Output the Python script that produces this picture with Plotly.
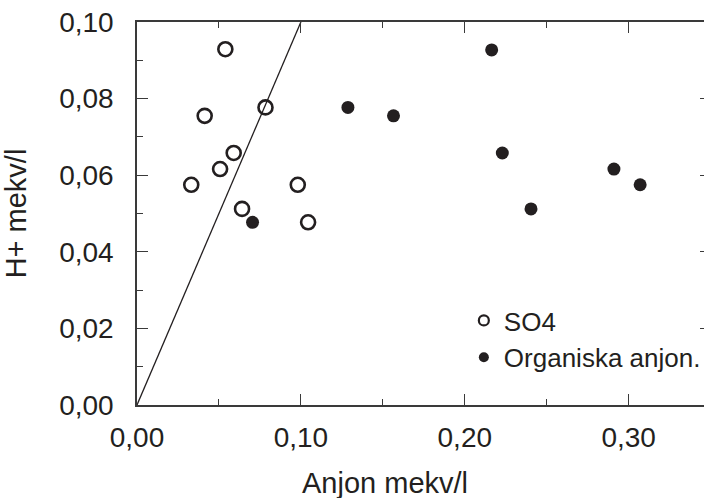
import plotly.graph_objects as go

# H+ versus anion concentration (mekv/l)
so4_anjon = [0.0539, 0.0413, 0.0784, 0.0590, 0.0507, 0.0331, 0.0981, 0.0641, 0.1044]
so4_h = [0.0929, 0.0755, 0.0777, 0.0658, 0.0616, 0.0575, 0.0575, 0.0512, 0.0477]

org_anjon = [0.0705, 0.1287, 0.1565, 0.2164, 0.2229, 0.2404, 0.2910, 0.3070]
org_h = [0.0477, 0.0777, 0.0755, 0.0927, 0.0658, 0.0512, 0.0616, 0.0575]

# 1:1 reference line
ref_x = [0.0, 0.10]
ref_y = [0.0, 0.10]

x_ticks = [0.0, 0.1, 0.2, 0.3]
y_ticks = [0.0, 0.02, 0.04, 0.06, 0.08, 0.10]
right_ticks = [0.02, 0.04, 0.06, 0.08]

INK = "#231f20"
AXIS = "#3a3a3a"
FONT = "Liberation Sans, Arial, Helvetica, sans-serif"

W, H = 706, 498
ML, MR, MT, MB = 137, 0, 22, 93
PX_PER_UNIT_X = 1644.7
x_max = (W - ML - MR) / PX_PER_UNIT_X

fig = go.Figure()

fig.add_trace(go.Scatter(
    x=ref_x, y=ref_y, mode="lines",
    line=dict(color=INK, width=1.3),
    showlegend=False, hoverinfo="skip",
))

fig.add_trace(go.Scatter(
    x=so4_anjon, y=so4_h, mode="markers", name="SO4",
    marker=dict(symbol="circle-open", size=14, color=INK, line=dict(width=2.6, color=INK)),
    showlegend=False,
))

fig.add_trace(go.Scatter(
    x=org_anjon, y=org_h, mode="markers", name="Organiska anjon.",
    marker=dict(symbol="circle", size=13, color=INK),
    showlegend=False,
))

# legend entries with smaller symbols
fig.add_trace(go.Scatter(
    x=[None], y=[None], mode="markers", name="SO4",
    marker=dict(symbol="circle-open", size=10, color=INK, line=dict(width=2.2, color=INK)),
))
fig.add_trace(go.Scatter(
    x=[None], y=[None], mode="markers", name="Organiska anjon.",
    marker=dict(symbol="circle", size=10, color=INK),
))

# right-hand tick marks
fig.add_trace(go.Scatter(
    x=[None], y=[None], yaxis="y2", showlegend=False, hoverinfo="skip",
))

fig.update_layout(
    width=W, height=H,
    margin=dict(l=ML, r=MR, t=MT, b=MB, pad=0),
    paper_bgcolor="white", plot_bgcolor="white",
    separators=", ",
    font=dict(family=FONT, size=28, color=INK),
    xaxis=dict(
        range=[0, x_max], tickvals=x_ticks, tickformat=".2f",
        ticks="inside", ticklen=11, tickwidth=1, tickcolor=AXIS,
        minor=dict(dtick=0.05, tick0=0, ticks="inside", ticklen=6, tickwidth=1, tickcolor=AXIS),
        showline=True, linecolor=AXIS, linewidth=1.5, mirror="ticks",
        showgrid=False, zeroline=False,
        tickfont=dict(size=28, color=INK), ticklabelstandoff=7,
    ),
    yaxis=dict(
        range=[0, 0.10], tickvals=y_ticks, tickformat=".2f",
        ticks="inside", ticklen=11, tickwidth=1, tickcolor=AXIS,
        minor=dict(dtick=0.01, tick0=0, ticks="inside", ticklen=6, tickwidth=1, tickcolor=AXIS),
        showline=True, linecolor=AXIS, linewidth=1.5,
        showgrid=False, zeroline=False,
        tickfont=dict(size=28, color=INK), ticklabelstandoff=16,
        title=dict(text="H+ mekv/l", font=dict(size=29, color=INK), standoff=24),
    ),
    yaxis2=dict(
        overlaying="y", side="right", range=[0, 0.10], tickvals=right_ticks,
        ticks="inside", ticklen=4, tickwidth=1, tickcolor=AXIS,
        showticklabels=False, showline=False, showgrid=False, zeroline=False,
    ),
    legend=dict(
        x=(465 - ML) / (W - ML - MR), xanchor="left",
        y=(H - MB - 297) / (H - MT - MB), yanchor="top",
        bgcolor="rgba(0,0,0,0)", borderwidth=0,
        font=dict(size=26, color=INK),
        tracegroupgap=0, itemsizing="trace",
    ),
    annotations=[dict(
        text="Anjon mekv/l", xref="paper", yref="paper",
        x=(385.5 - ML) / (W - ML - MR), y=-(483 - (H - MB)) / (H - MT - MB),
        xanchor="center", yanchor="middle", showarrow=False,
        font=dict(size=29, color=INK, family=FONT),
    )],
)

fig.write_html("out.html")
